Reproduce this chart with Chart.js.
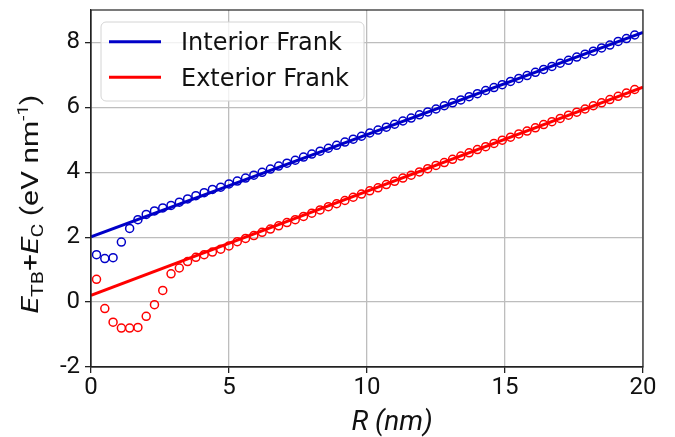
<!DOCTYPE html>
<html>
<head>
<meta charset="utf-8">
<script src="https://cdn.jsdelivr.net/npm/chart.js@4.4.1/dist/chart.umd.min.js"></script>
<style>
  body { margin: 0; background: #fff; }
  canvas { display: block; }
</style>
</head>
<body>
<canvas id="energyChart" width="675" height="437"></canvas>
<script>
// Radius values (nm) of the simulated loops
const radii = [0.2, 0.5, 0.8, 1.1, 1.4, 1.7, 2.0, 2.3, 2.6, 2.9, 3.2, 3.5, 3.8, 4.1, 4.4, 4.7,
  5.0, 5.3, 5.6, 5.9, 6.2, 6.5, 6.8, 7.1, 7.4, 7.7, 8.0, 8.3, 8.6, 8.9, 9.2, 9.5, 9.8,
  10.1, 10.4, 10.7, 11.0, 11.3, 11.6, 11.9, 12.2, 12.5, 12.8, 13.1, 13.4, 13.7, 14.0, 14.3,
  14.6, 14.9, 15.2, 15.5, 15.8, 16.1, 16.4, 16.7, 17.0, 17.3, 17.6, 17.9, 18.2, 18.5, 18.8,
  19.1, 19.4, 19.7];

// E_TB + E_C from the atomistic data (circles)
const interiorPoints = [1.46, 1.34, 1.37, 1.85, 2.27, 2.54, 2.70, 2.81, 2.90, 2.98, 3.08, 3.18, 3.28, 3.37, 3.47, 3.54,
  3.64, 3.73, 3.82, 3.91, 4.00, 4.10, 4.19, 4.28, 4.37, 4.47, 4.56, 4.65, 4.74, 4.83, 4.93, 5.02, 5.11,
  5.21, 5.30, 5.39, 5.48, 5.58, 5.67, 5.77, 5.86, 5.95, 6.05, 6.14, 6.23, 6.33, 6.42, 6.52,
  6.61, 6.70, 6.80, 6.89, 6.98, 7.08, 7.17, 7.26, 7.36, 7.45, 7.55, 7.64, 7.73, 7.83, 7.92,
  8.03, 8.12, 8.23];
const exteriorPoints = [0.70, -0.20, -0.62, -0.80, -0.80, -0.78, -0.44, -0.08, 0.36, 0.87, 1.05, 1.25, 1.38, 1.46, 1.54, 1.63,
  1.73, 1.86, 1.96, 2.05, 2.15, 2.25, 2.35, 2.45, 2.54, 2.64, 2.74, 2.84, 2.94, 3.03, 3.13, 3.23, 3.33,
  3.43, 3.52, 3.62, 3.72, 3.82, 3.91, 4.01, 4.11, 4.21, 4.30, 4.40, 4.50, 4.60, 4.70, 4.79,
  4.89, 4.99, 5.08, 5.18, 5.27, 5.37, 5.47, 5.56, 5.66, 5.76, 5.85, 5.95, 6.05, 6.14, 6.24,
  6.34, 6.44, 6.55];

// Analytical (Frank loop) lines, end points
const lineR = [0, 20];
const interiorLine = [2.01, 8.31];
const exteriorLine = [0.21, 6.62];

const xTicks = [0, 5, 10, 15, 20];
const yTicks = [-2, 0, 2, 4, 6, 8];

const BLUE = '#0000c8';
const RED = '#ff0000';

const toXY = (xs, ys) => xs.map((x, i) => ({ x: x, y: ys[i] }));

// frame, legend and axis titles (matplotlib look)
const decorPlugin = {
  id: 'decor',
  afterDraw(chart) {
    const ctx = chart.ctx;
    const a = chart.chartArea;
    ctx.save();
    ctx.strokeStyle = '#222';
    ctx.lineWidth = 1.2;
    ctx.strokeRect(a.left, a.top, a.right - a.left, a.bottom - a.top);

    // legend box
    const bx = 101, by = 22, bw = 263, bh = 79, r = 5;
    ctx.beginPath();
    ctx.moveTo(bx + r, by);
    ctx.arcTo(bx + bw, by, bx + bw, by + bh, r);
    ctx.arcTo(bx + bw, by + bh, bx, by + bh, r);
    ctx.arcTo(bx, by + bh, bx, by, r);
    ctx.arcTo(bx, by, bx + bw, by, r);
    ctx.closePath();
    ctx.fillStyle = 'rgba(255,255,255,0.8)';
    ctx.fill();
    ctx.strokeStyle = '#d4d4d4';
    ctx.lineWidth = 1;
    ctx.stroke();

    const entries = [chart.data.datasets[0], chart.data.datasets[1]];
    entries.forEach((ds, i) => {
      const ly = 41.7 + i * 35.6;
      ctx.strokeStyle = ds.borderColor;
      ctx.lineWidth = 3;
      ctx.beginPath();
      ctx.moveTo(109, ly);
      ctx.lineTo(161, ly);
      ctx.stroke();
      ctx.fillStyle = '#111';
      ctx.font = '24px "DejaVu Sans"';
      ctx.textAlign = 'left';
      ctx.textBaseline = 'alphabetic';
      ctx.fillText(ds.label, 181, ly + 8.5);
    });

    // x title
    ctx.fillStyle = '#111';
    ctx.font = 'italic 28px Roboto';
    ctx.textAlign = 'center';
    ctx.fillText('R (nm)', 392, 430);

    // y title with sub/superscripts
    const parts = [
      { t: 'E', f: 'italic 24px Roboto', dy: 0 },
      { t: 'TB', f: '17px Roboto', dy: 5 },
      { t: '+', f: '24px Roboto', dy: 0 },
      { t: 'E', f: 'italic 24px Roboto', dy: 0 },
      { t: 'C', f: '17px Roboto', dy: 5 },
      { t: ' (eV nm', f: '24px Roboto', dy: 0 },
      { t: '-1', f: '15px Roboto', dy: -10 },
      { t: ')', f: '24px Roboto', dy: 0 }
    ];
    let total = 0;
    parts.forEach(p => { ctx.font = p.f; p.w = ctx.measureText(p.t).width; total += p.w; });
    ctx.translate(38, 204);
    ctx.rotate(-Math.PI / 2);
    ctx.scale(1.25, 1);
    ctx.textAlign = 'left';
    let px = -total / 2;
    parts.forEach(p => {
      ctx.font = p.f;
      ctx.fillText(p.t, px, p.dy);
      px += p.w;
    });
    ctx.restore();
  }
};

new Chart(document.getElementById('energyChart'), {
  type: 'scatter',
  data: {
    datasets: [
      {
        label: 'Interior Frank',
        data: toXY(lineR, interiorLine),
        showLine: true,
        borderColor: BLUE,
        borderWidth: 3,
        pointRadius: 0,
        order: 2
      },
      {
        label: 'Exterior Frank',
        data: toXY(lineR, exteriorLine),
        showLine: true,
        borderColor: RED,
        borderWidth: 3,
        pointRadius: 0,
        order: 2
      },
      {
        label: 'Interior data',
        data: toXY(radii, interiorPoints),
        borderColor: BLUE,
        backgroundColor: 'rgba(0,0,0,0)',
        pointRadius: 4,
        borderWidth: 1.5,
        order: 1
      },
      {
        label: 'Exterior data',
        data: toXY(radii, exteriorPoints),
        borderColor: RED,
        backgroundColor: 'rgba(0,0,0,0)',
        pointRadius: 4,
        borderWidth: 1.5,
        order: 1
      }
    ]
  },
  options: {
    responsive: false,
    animation: false,
    devicePixelRatio: 1,
    layout: { padding: { top: 10, right: 32, left: 0, bottom: 0 } },
    plugins: {
      legend: { display: false },
      tooltip: { enabled: false }
    },
    scales: {
      x: {
        type: 'linear',
        min: 0,
        max: 20,
        afterBuildTicks: (scale) => { scale.ticks = xTicks.map(v => ({ value: v })); },
        afterFit: (scale) => { scale.height = 70; scale.paddingLeft = 0; scale.paddingRight = 0; },
        ticks: { font: { family: 'Roboto', size: 24 }, color: '#111', padding: 1, maxRotation: 0 },
        grid: { color: '#bdbdbd', lineWidth: 1.3, tickColor: '#222', tickLength: 6 },
        border: { color: '#222', width: 1.2 }
      },
      y: {
        type: 'linear',
        min: -2,
        max: 9,
        afterBuildTicks: (scale) => { scale.ticks = yTicks.map(v => ({ value: v })); },
        afterFit: (scale) => { scale.width = 91; scale.paddingTop = 0; scale.paddingBottom = 0; },
        ticks: { font: { family: 'Roboto', size: 24 }, color: '#111', padding: 5 },
        grid: { color: '#bdbdbd', lineWidth: 1.3, tickColor: '#222', tickLength: 6 },
        border: { color: '#222', width: 1.2 }
      }
    }
  },
  plugins: [decorPlugin]
});
</script>
</body>
</html>
